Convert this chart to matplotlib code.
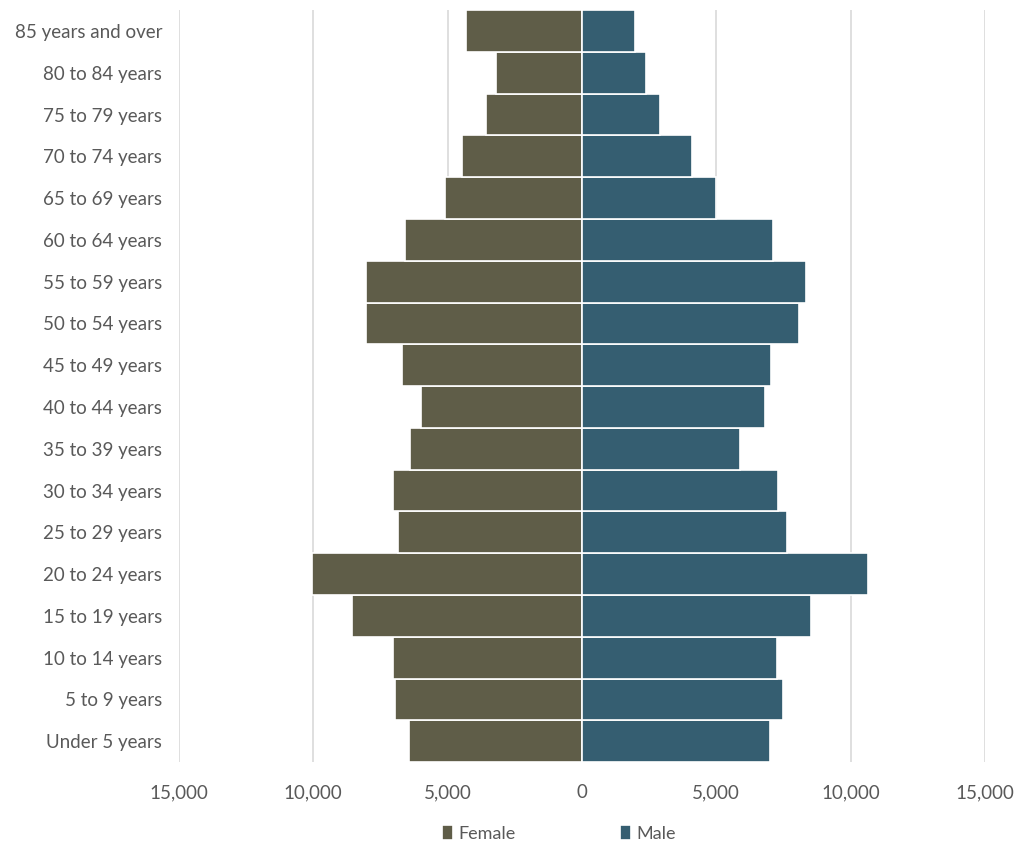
import numpy as np
import matplotlib.pyplot as plt
from matplotlib.ticker import FuncFormatter

plt.rcParams['font.family'] = ['Lato', 'DejaVu Sans']

age_groups = ["Under 5 years", "5 to 9 years", "10 to 14 years", "15 to 19 years",
              "20 to 24 years", "25 to 29 years", "30 to 34 years", "35 to 39 years",
              "40 to 44 years", "45 to 49 years", "50 to 54 years", "55 to 59 years",
              "60 to 64 years", "65 to 69 years", "70 to 74 years", "75 to 79 years",
              "80 to 84 years", "85 years and over"]
female = [6450, 6950, 7030, 8560, 10040, 6840, 7030, 6390, 6000, 6700,
          8050, 8050, 6580, 5100, 4470, 3570, 3180, 4330]
male = [7000, 7490, 7250, 8540, 10630, 7640, 7300, 5900, 6800, 7050,
        8090, 8330, 7110, 5000, 4100, 2890, 2380, 1990]
x_ticks = [-15000, -10000, -5000, 0, 5000, 10000, 15000]

female_color = "#5f5d48"
male_color = "#355e71"
text_color = "#595959"

fig = plt.figure(figsize=(10.16, 8.44), dpi=100)
ax = fig.add_axes([0.176, 0.097, 0.7935, 0.891])

y = np.arange(len(age_groups))
ax.barh(y, -np.array(female), height=1.0, color=female_color,
        edgecolor="white", linewidth=1.2, label="Female", zorder=3)
ax.barh(y, male, height=1.0, color=male_color,
        edgecolor="white", linewidth=1.2, label="Male", zorder=3)

ax.set_xlim(-15000, 15000)
ax.set_ylim(-0.5, len(age_groups) - 0.5)
ax.set_xticks(x_ticks)
ax.xaxis.set_major_formatter(FuncFormatter(lambda v, p: f"{abs(int(v)):,}"))
ax.set_yticks(y)
ax.set_yticklabels(age_groups)

ax.grid(axis="x", color="#d9d9d9", linewidth=1.2, zorder=0)
for s in ax.spines.values():
    s.set_visible(False)
ax.tick_params(axis="both", length=0, labelsize=13.5, colors=text_color)
ax.tick_params(axis="x", pad=16)
ax.tick_params(axis="y", pad=12)

leg = fig.legend(loc="lower center", bbox_to_anchor=(0.55, -0.017), ncol=2,
                 frameon=False, fontsize=13, handlelength=0.6, handleheight=0.9,
                 handletextpad=0.3, columnspacing=5.8)
for t in leg.get_texts():
    t.set_color(text_color)

fig.savefig("out.png", dpi=100, facecolor="white")
